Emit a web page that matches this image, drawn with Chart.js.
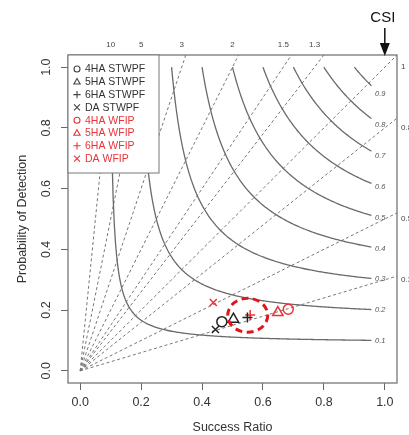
<!DOCTYPE html>
<html>
<head>
<meta charset="utf-8">
<script src="https://cdn.jsdelivr.net/npm/chart.js@4.4.1/dist/chart.umd.min.js"></script>
<style>
  html, body { margin: 0; padding: 0; background: #fff; }
  canvas { display: block; }
</style>
</head>
<body>
<canvas id="perfChart" width="409" height="435"></canvas>
<script>
"use strict";

// forecast verification points (success ratio, POD)
const seriesNames = ["4HA STWPF", "5HA STWPF", "6HA STWPF", "DA STWPF",
                     "4HA WFIP", "5HA WFIP", "6HA WFIP", "DA WFIP"];
const successRatio = [0.465, 0.503, 0.549, 0.444, 0.683, 0.649, 0.558, 0.437];
const probDetection = [0.162, 0.170, 0.176, 0.136, 0.203, 0.192, 0.184, 0.225];
const seriesColors = ["#222", "#222", "#222", "#222", "#e8343a", "#e8343a", "#e8343a", "#e8343a"];
const seriesMarkers = ["circle", "triangle", "cross", "crossRot",
                       "circle", "triangle", "cross", "crossRot"];

// background reference lines
const biasLevels = [0.3, 0.5, 0.8, 1, 1.3, 1.5, 2, 3, 5, 10];
const csiLevels = [0.1, 0.2, 0.3, 0.4, 0.5, 0.6, 0.7, 0.8, 0.9];
const axisTicks = [0, 0.2, 0.4, 0.6, 0.8, 1.0];

const AXIS_MIN = -0.04;
const AXIS_MAX = 1.04;
const FONT = "'Liberation Sans', Arial, sans-serif";

function podFromCsi(csi, sr) {
  return 1 / (1 / csi + 1 - 1 / sr);
}

const biasDatasets = biasLevels.map((b) => ({
  data: b >= 1 ? [{ x: 0, y: 0 }, { x: AXIS_MAX / b, y: AXIS_MAX }]
               : [{ x: 0, y: 0 }, { x: AXIS_MAX, y: AXIS_MAX * b }],
  showLine: true,
  borderColor: "#777",
  borderWidth: 1,
  borderDash: [3, 2.5],
  pointRadius: 0,
  order: 3,
}));

const csiDatasets = csiLevels.map((c) => {
  const pts = [];
  for (let sr = c; sr <= 0.956; sr += 0.004) {
    pts.push({ x: sr, y: podFromCsi(c, sr) });
  }
  pts.push({ x: 0.956, y: podFromCsi(c, 0.956) });
  return {
    data: pts,
    showLine: true,
    borderColor: "#6a6a6a",
    borderWidth: 1.3,
    pointRadius: 0,
    order: 2,
  };
});

const pointDatasets = seriesNames.map((name, i) => ({
  label: name,
  data: [{ x: successRatio[i], y: probDetection[i] }],
  pointStyle: seriesMarkers[i],
  pointRadius: seriesMarkers[i] === "triangle" ? 6 : 5,
  pointBorderWidth: 1.5,
  pointBorderColor: seriesColors[i],
  pointBackgroundColor: "rgba(0,0,0,0)",
  order: 0,
}));

function drawMarker(ctx, style, x, y, r, color) {
  ctx.save();
  ctx.strokeStyle = color;
  ctx.lineWidth = 1.1;
  ctx.beginPath();
  if (style === "circle") {
    ctx.arc(x, y, r, 0, Math.PI * 2);
  } else if (style === "triangle") {
    ctx.moveTo(x, y - r * 1.1);
    ctx.lineTo(x + r * 1.05, y + r * 0.75);
    ctx.lineTo(x - r * 1.05, y + r * 0.75);
    ctx.closePath();
  } else if (style === "cross") {
    ctx.moveTo(x - r * 1.2, y); ctx.lineTo(x + r * 1.2, y);
    ctx.moveTo(x, y - r * 1.2); ctx.lineTo(x, y + r * 1.2);
  } else {
    ctx.moveTo(x - r, y - r); ctx.lineTo(x + r, y + r);
    ctx.moveTo(x - r, y + r); ctx.lineTo(x + r, y - r);
  }
  ctx.stroke();
  ctx.restore();
}

const overlayPlugin = {
  id: "overlay",
  afterDatasetsDraw(chart) {
    const { ctx, chartArea: a, scales: { x, y } } = chart;
    ctx.save();

    // plot box
    ctx.strokeStyle = "#777";
    ctx.lineWidth = 1.3;
    ctx.strokeRect(a.left, a.top, a.right - a.left, a.bottom - a.top);

    // dashed ellipse around the 6HA points
    ctx.save();
    ctx.strokeStyle = "#e0161c";
    ctx.lineWidth = 3;
    ctx.setLineDash([7, 4.5]);
    ctx.beginPath();
    ctx.ellipse(x.getPixelForValue(0.550), y.getPixelForValue(0.183), 20, 17, 0, 0, Math.PI * 2);
    ctx.stroke();
    ctx.restore();

    // CSI contour labels
    ctx.fillStyle = "#555";
    ctx.font = "italic 7.5px " + FONT;
    ctx.textAlign = "center";
    ctx.textBaseline = "middle";
    csiLevels.forEach((c) => {
      ctx.fillText(String(c), x.getPixelForValue(0.985), y.getPixelForValue(podFromCsi(c, 0.985)));
    });

    // bias labels: top for bias > 1, right side for bias <= 1
    ctx.fillStyle = "#444";
    ctx.font = "8px " + FONT;
    biasLevels.forEach((b) => {
      if (b > 1) {
        ctx.textAlign = "center";
        ctx.fillText(String(b), x.getPixelForValue(1 / b), a.top - 10);
      } else {
        ctx.textAlign = "left";
        ctx.fillText(String(b), a.right + 4, y.getPixelForValue(b));
      }
    });

    // y tick labels, rotated like R
    ctx.fillStyle = "#333";
    ctx.font = "12.5px " + FONT;
    ctx.textAlign = "center";
    axisTicks.forEach((v) => {
      ctx.save();
      ctx.translate(47, y.getPixelForValue(v));
      ctx.rotate(-Math.PI / 2);
      ctx.fillText(v.toFixed(1), 0, 0);
      ctx.restore();
    });

    // legend
    const lx = a.left, ly = a.top, lw = 91, lh = 118;
    ctx.fillStyle = "#fff";
    ctx.fillRect(lx, ly, lw, lh);
    ctx.strokeStyle = "#777";
    ctx.lineWidth = 1;
    ctx.strokeRect(lx, ly, lw, lh);
    ctx.font = "10.5px " + FONT;
    ctx.textAlign = "left";
    seriesNames.forEach((name, i) => {
      const ry = ly + 14 + i * 12.8;
      drawMarker(ctx, seriesMarkers[i], lx + 9, ry, 3, seriesColors[i] === "#222" ? "#444" : "#e8343a");
      ctx.fillStyle = seriesColors[i] === "#222" ? "#333" : "#e8343a";
      ctx.fillText(name, lx + 17, ry + 0.5);
    });

    // CSI arrow
    const ax = x.getPixelForValue(1);
    ctx.fillStyle = "#111";
    ctx.strokeStyle = "#111";
    ctx.font = "15px " + FONT;
    ctx.textAlign = "center";
    ctx.fillText("CSI", ax - 2, 18);
    ctx.lineWidth = 1.5;
    ctx.beginPath();
    ctx.moveTo(ax, 28);
    ctx.lineTo(ax, 46);
    ctx.stroke();
    ctx.beginPath();
    ctx.moveTo(ax - 5, 43);
    ctx.lineTo(ax + 5, 43);
    ctx.lineTo(ax, a.top + 1);
    ctx.closePath();
    ctx.fill();

    ctx.restore();
  },
};

const ctx = document.getElementById("perfChart").getContext("2d");

new Chart(ctx, {
  type: "scatter",
  data: {
    datasets: [...pointDatasets, ...csiDatasets, ...biasDatasets],
  },
  options: {
    responsive: false,
    animation: false,
    layout: { padding: { top: 55, right: 12, left: 0, bottom: 0 } },
    plugins: {
      legend: { display: false },
      tooltip: { enabled: false },
    },
    scales: {
      x: {
        type: "linear",
        min: AXIS_MIN,
        max: AXIS_MAX,
        afterBuildTicks: (s) => { s.ticks = axisTicks.map((v) => ({ value: v })); },
        afterFit: (s) => { s.height = 52; },
        border: { display: false },
        grid: { drawOnChartArea: false, drawTicks: true, tickLength: 7, color: "#666" },
        ticks: {
          padding: 5,
          color: "#333",
          font: { family: FONT, size: 12.5 },
          callback: (v) => Number(v).toFixed(1),
        },
        title: {
          display: true,
          text: "Success Ratio",
          color: "#333",
          font: { family: FONT, size: 12.5 },
          padding: { top: 0, bottom: 0 },
        },
      },
      y: {
        type: "linear",
        min: AXIS_MIN,
        max: AXIS_MAX,
        afterBuildTicks: (s) => { s.ticks = axisTicks.map((v) => ({ value: v })); },
        afterFit: (s) => { s.width = 68; },
        border: { display: false },
        grid: { drawOnChartArea: false, drawTicks: true, tickLength: 7, color: "#666" },
        ticks: { display: false },
        title: {
          display: true,
          text: "Probability of Detection",
          color: "#333",
          font: { family: FONT, size: 12.5 },
          padding: { top: 15, bottom: 0 },
        },
      },
    },
  },
  plugins: [overlayPlugin],
});
</script>
</body>
</html>
